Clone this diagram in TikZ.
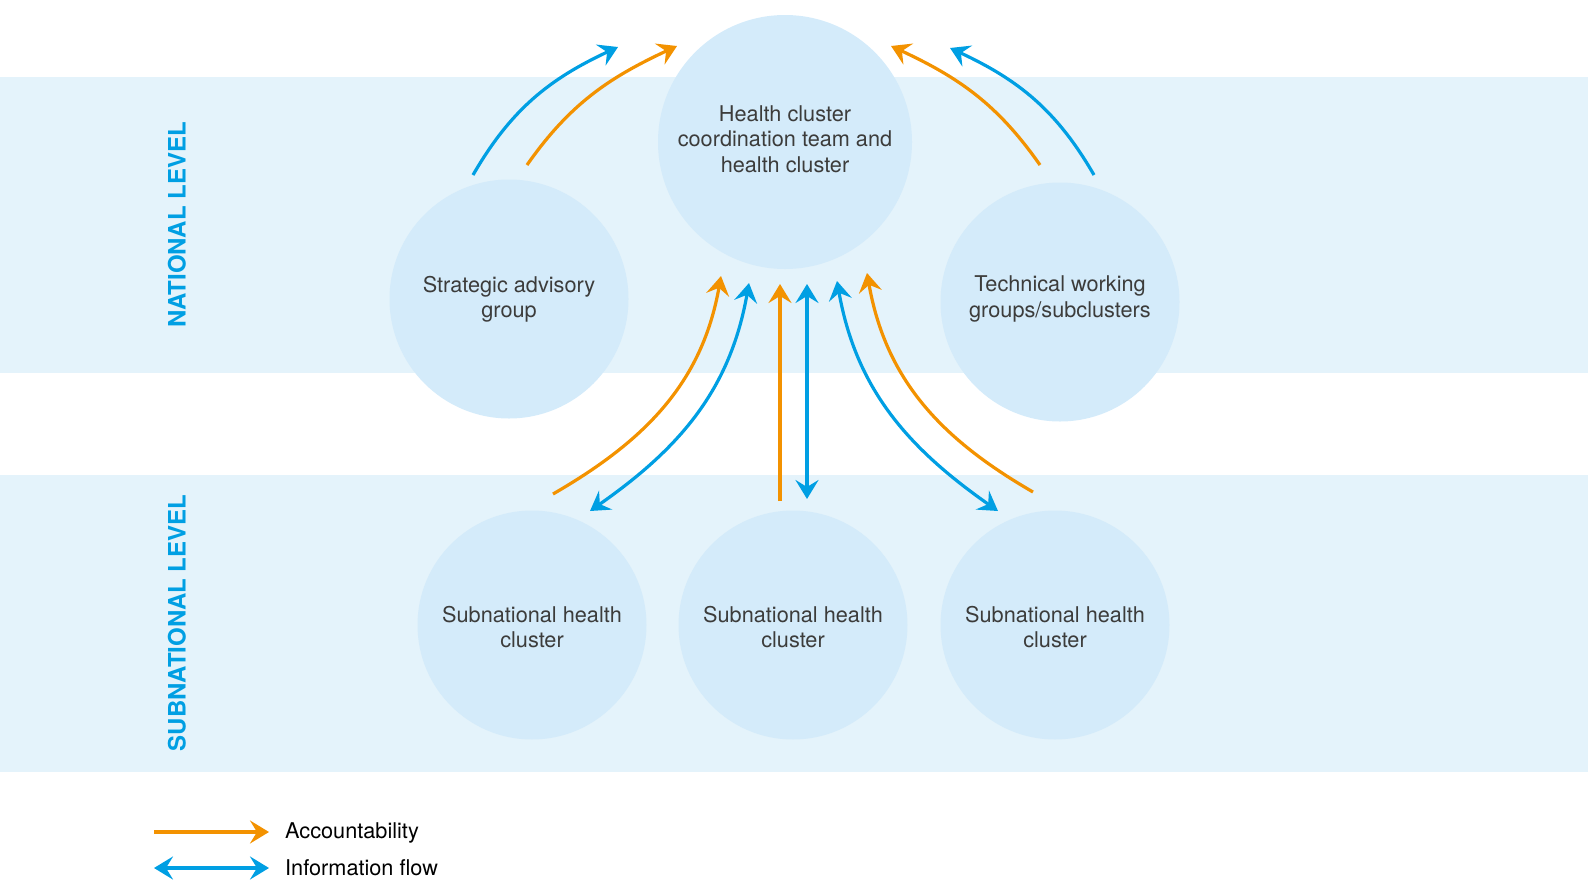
\documentclass[tikz,border=0pt]{standalone}
\usepackage{fontspec}
\setmainfont{TeX Gyre Heros}
\usetikzlibrary{arrows.meta}
\definecolor{bandc}{RGB}{228,243,251}
\definecolor{circc}{RGB}{212,235,250}
\definecolor{infoblue}{RGB}{0,159,227}
\definecolor{accorange}{RGB}{243,146,0}
\definecolor{txt}{RGB}{60,60,59}
\begin{document}
\begin{tikzpicture}[x=1pt,y=1pt,
  tipx/.tip={Stealth[length=19pt,width=23pt,inset=7pt]},
  bubble/.style={circle, fill=circc, draw=none, inner sep=0pt, text=txt, align=center,
    font=\fontsize{21.7}{25.3}\selectfont},
  level/.style={rotate=90, text=infoblue, font=\bfseries\fontsize{24}{28}\selectfont},
  acc/.style={draw=accorange, line width=3.2pt, -tipx, fill=none},
  info/.style={draw=infoblue, line width=3.2pt, tipx-tipx},
  infoone/.style={draw=infoblue, line width=3.2pt, -tipx},
  legtext/.style={anchor=west, text=black, inner sep=0pt, font=\fontsize{21.7}{25.3}\selectfont}
]
\useasboundingbox (0,0) rectangle (1588,-879);
% bands
\fill[bandc] (0,-77) rectangle (1588,-373);
\fill[bandc] (0,-475) rectangle (1588,-772);
% level labels
\node[level] (nat) at (177,-225) {NATIONAL LEVEL};
\node[level] (sub) at (177,-623) {SUBNATIONAL LEVEL};
% circles
\node[bubble, minimum size=254pt] (hc) at (785,-142) {};
\node[bubble, minimum size=239pt] (sag) at (509,-299) {};
\node[bubble, minimum size=239pt] (twg) at (1060,-302) {};
\node[bubble, minimum size=229pt] (s1) at (532,-625) {};
\node[bubble, minimum size=229pt] (s2) at (793,-625) {};
\node[bubble, minimum size=229pt] (s3) at (1055,-625) {};
% circle texts
\node[bubble, fill=none] (hct) at ([yshift=3pt]hc.center) {Health cluster\\coordination team and\\health cluster};
\node[bubble, fill=none] (sagt) at ([yshift=0pt]sag.center) {Strategic advisory\\group};
\node[bubble, fill=none] (twgt) at ([yshift=3pt]twg.center) {Technical working\\groups/subclusters};
\node[bubble, fill=none] (s1t) at ([yshift=-2pt]s1.center) {Subnational health\\cluster};
\node[bubble, fill=none] (s2t) at ([yshift=-2pt]s2.center) {Subnational health\\cluster};
\node[bubble, fill=none] (s3t) at ([yshift=-2pt]s3.center) {Subnational health\\cluster};
% connector ends
\coordinate (tlbS) at (473,-175);  \coordinate (tlbE) at (618,-47);
\coordinate (tloS) at (527,-165);  \coordinate (tloE) at (677,-46);
\coordinate (troS) at (1040,-165); \coordinate (troE) at (891,-46);
\coordinate (trbS) at (1094,-175); \coordinate (trbE) at (950,-48);
\coordinate (mloS) at (553,-494);  \coordinate (mloE) at (721,-276);
\coordinate (mlbS) at (590,-511);  \coordinate (mlbE) at (749,-283);
\coordinate (mcoS) at (780,-501);  \coordinate (mcoE) at (780,-284);
\coordinate (mcbS) at (807,-499);  \coordinate (mcbE) at (807,-284);
\coordinate (mrbS) at (998,-511);  \coordinate (mrbE) at (837,-281);
\coordinate (mroS) at (1033,-492); \coordinate (mroE) at (867,-273);
% top arrows
\draw[infoone] (tlbS) to[out=60,in=205] (tlbE);
\draw[acc] (tloS) to[out=55,in=205] (tloE);
\draw[acc] (troS) to[out=125,in=-25] (troE);
\draw[infoone] (trbS) to[out=120,in=-25] (trbE);
% middle arrows
\draw[acc] (mloS) to[out=30,in=-100] (mloE);
\draw[info] (mlbS) to[out=35,in=-100] (mlbE);
\draw[acc] (mcoS) -- (mcoE);
\draw[info] (mcbS) -- (mcbE);
\draw[info] (mrbS) to[out=145,in=-80] (mrbE);
\draw[acc] (mroS) to[out=150,in=-80] (mroE);
% legend
\coordinate (la1) at (154,-832); \coordinate (la2) at (269,-832);
\coordinate (lb1) at (154,-868); \coordinate (lb2) at (269,-868);
\draw[acc] (la1) -- (la2);
\draw[info] (lb1) -- (lb2);
\node[legtext] (lta) at (285,-833) {Accountability};
\node[legtext] (ltb) at (285,-868) {Information flow};
\end{tikzpicture}
\end{document}
